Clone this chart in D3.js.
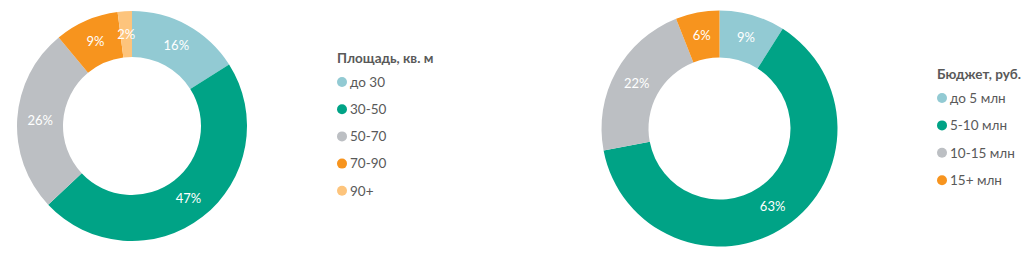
<!DOCTYPE html>
<html>
<head>
<meta charset="utf-8">
<script src="https://cdn.jsdelivr.net/npm/d3@7"></script>
<style>
  body { margin: 0; background: #fff; }
  svg { font-family: Lato, "Open Sans", sans-serif; }
</style>
</head>
<body>
<script>
// data
var areaLabels = ["до 30", "30-50", "50-70", "70-90", "90+"];
var areaValues = [16, 47, 26, 9, 2];
var areaColors = ["#92cad3", "#00a386", "#bcbfc3", "#f7941e", "#fdc47c"];

var budgetLabels = ["до 5 млн", "5-10 млн", "10-15 млн", "15+ млн"];
var budgetValues = [9, 63, 22, 6];
var budgetColors = ["#92cad3", "#00a386", "#bcbfc3", "#f7941e"];

var width = 1035, height = 264;

var svg = d3.select("body").append("svg")
  .attr("width", width)
  .attr("height", height);

// one donut plus its legend
function donut(opts) {
  var data = opts.values.map(function(v, i) {
    return { label: opts.labels[i], value: v, color: opts.colors[i] };
  });

  var pie = d3.pie()
    .sort(null)
    .value(function(d) { return d.value; });

  var arc = d3.arc()
    .innerRadius(opts.inner)
    .outerRadius(opts.outer);

  var g = svg.append("g")
    .attr("transform", "translate(" + opts.cx + "," + opts.cy + ")");

  var slices = g.selectAll(".slice")
    .data(pie(data))
    .enter().append("g")
    .attr("class", "slice");

  slices.append("path")
    .attr("d", arc)
    .style("fill", function(d) { return d.data.color; });

  slices.append("text")
    .attr("transform", function(d) { return "translate(" + arc.centroid(d) + ")"; })
    .attr("text-anchor", "middle")
    .attr("dy", "0.35em")
    .style("fill", "#fff")
    .style("font-size", "13px")
    .text(function(d) { return d.data.value + "%"; });

  // legend
  var lg = svg.append("g")
    .attr("transform", "translate(" + opts.lx + "," + opts.ly + ")");

  lg.append("text")
    .attr("x", -5)
    .attr("y", 0)
    .style("font-weight", "bold")
    .style("font-size", "13.5px")
    .style("fill", "#595959")
    .text(opts.title);

  var items = lg.selectAll(".item")
    .data(data)
    .enter().append("g")
    .attr("class", "item")
    .attr("transform", function(d, i) { return "translate(0," + (19 + i * opts.step) + ")"; });

  items.append("circle")
    .attr("r", 5)
    .style("fill", function(d) { return d.color; });

  items.append("text")
    .attr("x", 8)
    .attr("dy", "0.35em")
    .style("font-size", "13.5px")
    .style("fill", "#595959")
    .text(function(d) { return d.label; });
}

donut({
  values: areaValues, labels: areaLabels, colors: areaColors,
  cx: 132, cy: 126, outer: 115, inner: 69,
  title: "Площадь, кв. м", lx: 342, ly: 63, step: 27.2
});

donut({
  values: budgetValues, labels: budgetLabels, colors: budgetColors,
  cx: 719.5, cy: 128.5, outer: 118, inner: 71,
  title: "Бюджет, руб.", lx: 942, ly: 79, step: 27.4
});
</script>
</body>
</html>
